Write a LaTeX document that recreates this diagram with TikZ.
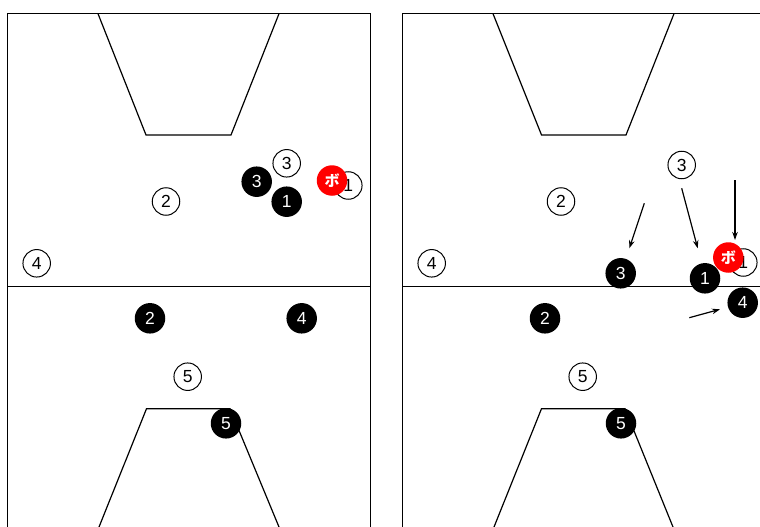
\documentclass[tikz,border=0pt]{standalone}
\usepackage{fontspec}
\setmainfont{Liberation Sans}
\newfontfamily\jpfont{Noto Sans CJK JP}
\usetikzlibrary{arrows.meta}
\begin{document}
\begin{tikzpicture}[x=1pt,y=-1pt,
  court/.style={line width=1.4pt},
  lane/.style={line width=1.2pt},
  off/.style={circle, draw=black, line width=1pt, fill=white, minimum size=27.5pt, inner sep=0pt, font=\fontsize{17.5}{17.5}\selectfont},
  defn/.style={circle, fill=black, text=white, minimum size=30.5pt, inner sep=0pt, font=\fontsize{17.5}{17.5}\selectfont},
  ball/.style={circle, fill=red, text=white, minimum size=30.5pt, inner sep=0pt, font=\jpfont\bfseries\fontsize{15}{15}\selectfont},
  move/.style={line width=1.2pt, -{Stealth[length=8pt,width=5.5pt]}}]
\useasboundingbox (0,0) rectangle (760,527);
\clip (0,0) rectangle (760,527);
\fill[white] (0,0) rectangle (760,527);
% ---------- left court ----------
\draw[court] (7.3,540) -- (7.3,13.7) -- (370.7,13.7) -- (370.7,540);
\draw[court] (7.3,286.7) -- (370.7,286.7);
\draw[lane] (98,13.7) -- (146,135) -- (231,135) -- (279,13.7);
\draw[lane] (99,527) -- (146.5,408.7) -- (230,408.7) -- (279,527);
% ---------- right court ----------
\draw[court] (402.3,540) -- (402.3,13.7) -- (770,13.7);
\draw[court] (402.3,286.7) -- (770,286.7);
\draw[lane] (493,13.7) -- (541.5,135) -- (626,135) -- (674,13.7);
\draw[lane] (494,527) -- (541.5,408.7) -- (625,408.7) -- (673,527);
% ---------- left players ----------
\node[off] (Lo3) at (286.7,163.3) {3};
\node[off] (Lo2) at (166,201.5) {2};
\node[off] (Lo4) at (36.7,263.3) {4};
\node[off] (Lo5) at (187.7,376.7) {5};
\node[off] (Lo1) at (348.3,185.5) {1};
\node[defn] (Ld3) at (256.7,181.7) {3};
\node[defn] (Ld1) at (286.7,201.7) {1};
\node[defn] (Ld2) at (150,318.3) {2};
\node[defn] (Ld4) at (301.7,318.3) {4};
\node[defn] (Ld5) at (226,423.3) {5};
\node[ball] (Lb) at (332,180.5) {ボ};
% ---------- right players ----------
\node[off] (Ro3) at (681.7,165) {3};
\node[off] (Ro2) at (561,201.5) {2};
\node[off] (Ro4) at (431.7,263.3) {4};
\node[off] (Ro5) at (582.7,376.7) {5};
\node[off] (Ro1) at (743.3,262.5) {1};
\node[defn] (Rd3) at (620.7,273.3) {3};
\node[defn] (Rd1) at (705,278.3) {1};
\node[defn] (Rd2) at (545,318.3) {2};
\node[defn] (Rd4) at (742.7,302.7) {4};
\node[defn] (Rd5) at (621,423.3) {5};
\node[ball] (Rb) at (728.3,257.5) {ボ};
% ---------- movement arrows ----------
\coordinate (a1s) at (644.3,203.3);
\coordinate (a1e) at (629.3,248.3);
\coordinate (a2s) at (681.7,188.3);
\coordinate (a2e) at (697.7,248.3);
\coordinate (a3s) at (735,180);
\coordinate (a3e) at (735,240);
\coordinate (a4s) at (689.3,317.7);
\coordinate (a4e) at (720,309.3);
\draw[move] (a1s) -- (a1e);
\draw[move] (a2s) -- (a2e);
\draw[move] (a3s) -- (a3e);
\draw[move] (a4s) -- (a4e);
\end{tikzpicture}
\end{document}
